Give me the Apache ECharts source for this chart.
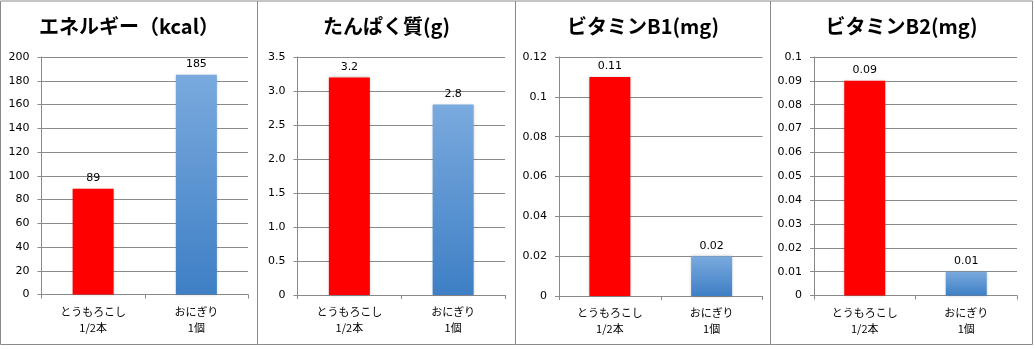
<!DOCTYPE html>
<html><head><meta charset="utf-8">
<script src="https://cdn.jsdelivr.net/npm/echarts@6/dist/echarts.min.js"></script>
<style>html,body{margin:0;padding:0;background:#fff}#c{width:1035px;height:349px}</style>
</head><body><div id="c"></div>
<script>
const categories = ['とうもろこし\n1/2本', 'おにぎり\n1個'];
const titles = ['エネルギー（kcal）', 'たんぱく質(g)', 'ビタミンB1(mg)', 'ビタミンB2(mg)'];
const energy = [89, 185];
const protein = [3.2, 2.8];
const vitB1 = [0.11, 0.02];
const vitB2 = [0.09, 0.01];
const labelsEnergy = ['89', '185'];
const labelsProtein = ['3.2', '2.8'];
const labelsB1 = ['0.11', '0.02'];
const labelsB2 = ['0.09', '0.01'];
const ticksEnergy = ['0','20','40','60','80','100','120','140','160','180','200'];
const ticksProtein = ['0','0.5','1.0','1.5','2.0','2.5','3.0','3.5'];
const ticksB1 = ['0','0.02','0.04','0.06','0.08','0.1','0.12'];
const ticksB2 = ['0','0.01','0.02','0.03','0.04','0.05','0.06','0.07','0.08','0.09','0.1'];

const panels = [
  {values: energy, labels: labelsEnergy, ticks: ticksEnergy, max: 200, interval: 20,
   box: [0.5, 257.5], grid: {left: 41.5, right: 248, top: 57, bottom: 294.5}},
  {values: protein, labels: labelsProtein, ticks: ticksProtein, max: 3.5, interval: 0.5,
   box: [257.5, 515.5], grid: {left: 297.5, right: 505, top: 57, bottom: 295}},
  {values: vitB1, labels: labelsB1, ticks: ticksB1, max: 0.12, interval: 0.02,
   box: [515.5, 770.5], grid: {left: 559, right: 762.5, top: 57, bottom: 296}},
  {values: vitB2, labels: labelsB2, ticks: ticksB2, max: 0.1, interval: 0.01,
   box: [770.5, 1032.5], grid: {left: 814, right: 1017, top: 57, bottom: 295.5}}
];

const W = 1035, H = 349;
const gray = '#8a8a8a';
const blueGrad = new echarts.graphic.LinearGradient(0, 0, 0, 1, [
  {offset: 0, color: '#7aaade'}, {offset: 1, color: '#3e7fc5'}]);
const pointColors = ['#ff0000', blueGrad];

const grids = [], xAxes = [], yAxes = [], series = [], graphics = [];
panels.forEach((p, i) => {
  grids.push({left: p.grid.left, width: p.grid.right - p.grid.left,
    top: p.grid.top, height: p.grid.bottom - p.grid.top, containLabel: false});
  xAxes.push({type: 'category', gridIndex: i, data: categories,
    axisLine: {lineStyle: {color: gray}},
    axisTick: {show: true, length: 4, lineStyle: {color: gray}},
    axisLabel: {color: '#000', fontSize: 11, lineHeight: 16, margin: 9,
      fontFamily: 'Noto Sans CJK JP'}});
  yAxes.push({type: 'value', gridIndex: i, min: 0, max: p.max, interval: p.interval,
    axisLine: {show: true, lineStyle: {color: gray}},
    axisTick: {show: true, length: 4, lineStyle: {color: gray}},
    splitLine: {lineStyle: {color: gray}},
    axisLabel: {color: '#000', fontSize: 11, margin: 12, fontFamily: 'DejaVu Sans',
      formatter: v => p.ticks[Math.round(v / p.interval)]}});
  series.push({type: 'bar', xAxisIndex: i, yAxisIndex: i, barWidth: 41,
    data: p.values.map((v, k) => ({value: v, itemStyle: {color: pointColors[k]}})),
    itemStyle: {shadowBlur: 3, shadowColor: 'rgba(0,0,0,0.25)'},
    label: {show: true, position: 'top', distance: 5, color: '#000', fontSize: 11,
      fontFamily: 'DejaVu Sans', formatter: d => p.labels[d.dataIndex]}});
  graphics.push({type: 'rect', silent: true,
    shape: {x: p.box[0], y: 1, width: p.box[1] - p.box[0], height: 343.5},
    style: {fill: 'none', stroke: gray, lineWidth: 1}});
  graphics.push({type: 'text', x: (p.box[0] + p.box[1]) / 2, y: 26,
    style: {text: titles[i], fontSize: 20, fontWeight: 'bold', fill: '#000',
      fontFamily: 'Noto Sans CJK JP', textAlign: 'center', textVerticalAlign: 'middle'}});
});

const chart = echarts.init(document.getElementById('c'), null, {renderer: 'canvas', width: W, height: H});
chart.setOption({
  animation: false,
  backgroundColor: '#fff',
  grid: grids, xAxis: xAxes, yAxis: yAxes, series: series, graphic: graphics
});
</script></body></html>
